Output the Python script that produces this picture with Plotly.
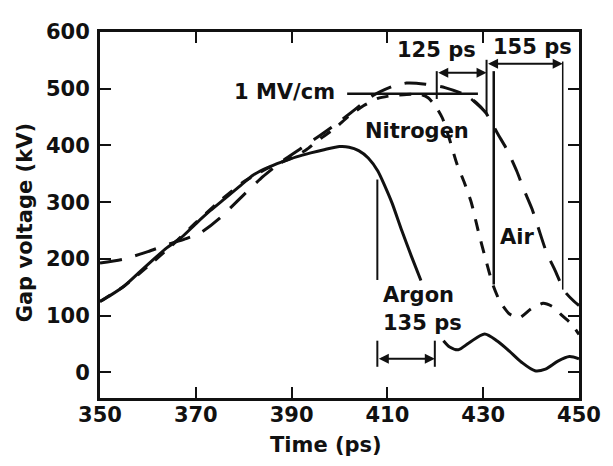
import plotly.graph_objects as go

# ---- data (time in ps, gap voltage in kV) ----
argon_t = [350, 352, 355, 358, 361, 364, 367, 370, 373, 376, 379, 382, 385, 388, 391, 394, 397, 400, 402, 404, 406, 408, 409.5, 411, 413, 415, 417]
argon_v = [125, 135, 152, 175, 198, 220, 238, 262, 285, 306, 327, 348, 361, 371, 380, 387, 393, 398, 397, 391, 378, 355, 328, 298, 250, 205, 162]

argon_after_t = [421.7, 423, 424.8, 427, 430.3, 433, 435.4, 438, 440.8, 443, 445.6, 448, 450]
argon_after_v = [56, 45, 40, 52, 68, 55, 38, 18, 3, 6, 20, 28, 24]

nitrogen_t = [350, 355, 360, 365, 370, 375, 380, 385, 390, 393, 396, 399, 402, 405, 408, 411, 414, 417,
              418.5, 420, 421.5, 423, 424.5, 426, 427.5, 429, 430.5, 432, 433.5, 435.5, 437.5, 440, 442.5, 444.5, 446.5, 448.5, 450]
nitrogen_v = [125, 152, 187, 224, 264, 302, 336, 360, 378, 392, 412, 430, 452, 470, 483, 488, 490, 490,
              484, 470, 448, 410, 368, 336, 300, 248, 200, 155, 125, 103, 96, 112, 122, 116, 100, 85, 67]

air_t = [350, 355, 360, 365, 368, 371, 375, 380, 384, 388, 392, 396, 400, 403, 407, 411, 414, 418, 422, 426, 428.5, 430.6,
         433, 435, 437, 438.5, 440.2, 441.5, 443.2, 445, 447, 449, 450]
air_v = [193, 200, 213, 228, 236, 246, 272, 313, 345, 372, 395, 418, 442, 462, 488, 504, 510, 508, 502, 490, 476, 457,
         421, 392, 355, 322, 288, 255, 212, 180, 143, 125, 118]

x_ticks = [350, 370, 390, 410, 430, 450]
y_ticks = [0, 100, 200, 300, 400, 500, 600]

FONT = "DejaVu Sans"
BLACK = "#111111"

fig = go.Figure()
fig.add_trace(go.Scatter(x=argon_t, y=argon_v, mode="lines", line=dict(color=BLACK, width=3, shape="spline", smoothing=0.6), name="Argon"))
fig.add_trace(go.Scatter(x=argon_after_t, y=argon_after_v, mode="lines", line=dict(color=BLACK, width=3, shape="spline", smoothing=0.8), name="Argon (after)"))
fig.add_trace(go.Scatter(x=nitrogen_t, y=nitrogen_v, mode="lines", line=dict(color=BLACK, width=3, dash="12px,11px", shape="spline", smoothing=0.6), name="Nitrogen"))
fig.add_trace(go.Scatter(x=air_t, y=air_v, mode="lines", line=dict(color=BLACK, width=3, dash="22px,14px", shape="spline", smoothing=0.6), name="Air"))

# ---- reference lines ----
def seg(x0, y0, x1, y1, w=2):
    fig.add_shape(type="line", x0=x0, y0=y0, x1=x1, y1=y1, xref="x", yref="y",
                  line=dict(color=BLACK, width=w))

seg(401.6, 491, 428.9, 491, 2.5)        # 1 MV/cm line
seg(420.3, 482, 420.3, 531, 2)          # 125 ps left
seg(430.7, 551, 430.7, 457, 2)          # 125/155 shared
seg(427.5, 482, 430.7, 457, 2.5)        # check mark
seg(432.2, 531, 432.2, 155, 2.5)        # long vertical
seg(446.6, 548, 446.6, 146, 1.5)        # 155 ps right
seg(407.9, 340, 407.9, 163, 2)          # argon left upper
seg(407.9, 56, 407.9, 10, 2)            # argon left lower
seg(419.9, 56, 419.9, 10, 2)            # argon right lower

def arrow(x0, x1, y):
    fig.add_annotation(x=x1, y=y, ax=x0, ay=y, xref="x", yref="y", axref="x", ayref="y",
                       text="", showarrow=True, arrowhead=2, arrowside="end+start",
                       arrowsize=1, arrowwidth=2, arrowcolor=BLACK)

arrow(420.3, 430.7, 528)
arrow(430.7, 446.6, 544)
arrow(407.9, 419.9, 24)

# ---- text labels ----
def label(text, x, y, xanchor="center"):
    fig.add_annotation(x=x, y=y, xref="x", yref="y", text=text, showarrow=False,
                       xanchor=xanchor, yanchor="middle",
                       font=dict(family=FONT, size=21, color=BLACK, weight="bold"))

label("1 MV/cm", 399.4, 495, "right")
label("Nitrogen", 416.1, 425)
label("125 ps", 420.3, 569)
label("155 ps", 440.2, 574)
label("Air", 437.1, 238)
label("Argon", 408.6, 137, "left")
label("135 ps", 408.6, 87, "left")

# axis titles
fig.add_annotation(x=(330 - 100) / 488, y=(398 - 446) / 372, xref="paper", yref="paper",
                   text="Time (ps)", showarrow=False, xanchor="center", yanchor="middle",
                   font=dict(family=FONT, size=21, color=BLACK, weight="bold"))
fig.add_annotation(x=(23 - 100) / 488, y=(398 - 220) / 372, xref="paper", yref="paper",
                   text="Gap voltage (kV)", showarrow=False, textangle=-90,
                   xanchor="center", yanchor="middle",
                   font=dict(family=FONT, size=21, color=BLACK, weight="bold"))

axis_common = dict(showgrid=False, zeroline=False, showline=True, linecolor=BLACK, linewidth=3,
                   mirror="ticks", ticks="inside", ticklen=11, tickwidth=2, tickcolor=BLACK,
                   tickfont=dict(family=FONT, size=21, color=BLACK, weight="bold"))

# page body has an 8px margin: size/margins chosen so the plot area lands at x 100-588, y 26-398
fig.update_layout(
    width=605, height=458,
    margin=dict(l=92, r=25, t=18, b=68),
    paper_bgcolor="white", plot_bgcolor="white",
    showlegend=False,
    xaxis=dict(range=[350, 450], tickvals=x_ticks, ticktext=[str(v) for v in x_ticks],
               ticklabelstandoff=-4, **axis_common),
    yaxis=dict(range=[-45, 600], tickvals=y_ticks, ticktext=[str(v) for v in y_ticks],
               ticklabelstandoff=3, **axis_common),
)

fig.write_html("out.html")
